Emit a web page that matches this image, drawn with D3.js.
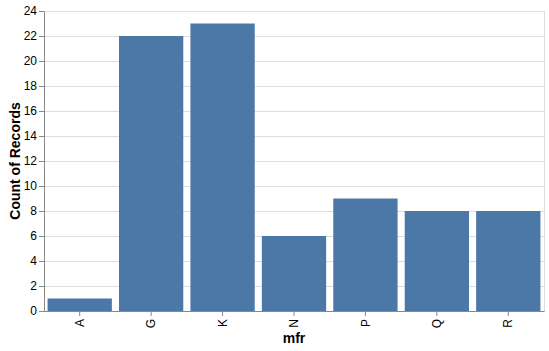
<!DOCTYPE html>
<html>
<head>
<meta charset="UTF-8">
<script src="https://d3js.org/d3.v7.min.js"></script>
<style>
  body { margin: 0; background: #fff; }
  text { font-family: "Liberation Sans", Arial, sans-serif; }
</style>
</head>
<body>
<script>
var categories = ["A", "G", "K", "N", "P", "Q", "R"];
var counts = [1, 22, 23, 6, 9, 8, 8];
var yTicks = [0, 2, 4, 6, 8, 10, 12, 14, 16, 18, 20, 22, 24];

var W = 549, H = 351;
var margin = {left: 44, top: 11, right: 5, bottom: 40};
var w = 500, h = 300;

var svg = d3.select("body").append("svg")
    .attr("width", W)
    .attr("height", H);

var g = svg.append("g")
    .attr("transform", "translate(" + margin.left + "," + margin.top + ")");

var x = d3.scaleBand()
    .domain(categories)
    .range([0, w])
    .paddingInner(0.1)
    .paddingOuter(0.05);

var y = d3.scaleLinear()
    .domain([0, 24])
    .range([h, 0]);

// gridlines
g.append("g")
  .selectAll("line")
  .data(yTicks)
  .enter().append("line")
    .attr("x1", 0)
    .attr("x2", w)
    .attr("y1", function(d) { return Math.round(y(d)) + 0.5; })
    .attr("y2", function(d) { return Math.round(y(d)) + 0.5; })
    .attr("stroke", "#ddd");

// view border
g.append("rect")
    .attr("x", 0.5).attr("y", 0.5)
    .attr("width", w).attr("height", h)
    .attr("fill", "none")
    .attr("stroke", "#ddd");

// bars
g.selectAll(".bar")
  .data(categories)
  .enter().append("rect")
    .attr("class", "bar")
    .attr("x", function(d) { return x(d); })
    .attr("width", x.bandwidth())
    .attr("y", function(d, i) { return y(counts[i]); })
    .attr("height", function(d, i) { return h - y(counts[i]); })
    .attr("fill", "#4c78a8");

// y axis
var yAxis = g.append("g")
    .call(d3.axisLeft(y).tickValues(yTicks).tickSize(5).tickPadding(2));
yAxis.selectAll("path, line").attr("stroke", "#888");
yAxis.selectAll("text").attr("font-size", 12).attr("fill", "#000")
    .style("font-family", "Liberation Sans, Arial, sans-serif");

// x axis
var xAxis = g.append("g")
    .attr("transform", "translate(0," + h + ")")
    .call(d3.axisBottom(x).tickSize(5).tickSizeOuter(0));
xAxis.selectAll("path, line").attr("stroke", "#888");
xAxis.selectAll("text")
    .attr("font-size", 12).attr("fill", "#000")
    .style("font-family", "Liberation Sans, Arial, sans-serif")
    .attr("transform", "rotate(-90)")
    .attr("x", -8)
    .attr("y", 0)
    .attr("dy", "0.35em")
    .attr("text-anchor", "end");

// titles
svg.append("text")
    .attr("x", margin.left + w / 2)
    .attr("y", 343)
    .attr("text-anchor", "middle")
    .attr("font-size", 14)
    .attr("font-weight", "bold")
    .text("mfr");

svg.append("text")
    .attr("transform", "translate(20," + (margin.top + h / 2) + ") rotate(-90)")
    .attr("text-anchor", "middle")
    .attr("font-size", 14)
    .attr("font-weight", "bold")
    .text("Count of Records");
</script>
</body>
</html>
